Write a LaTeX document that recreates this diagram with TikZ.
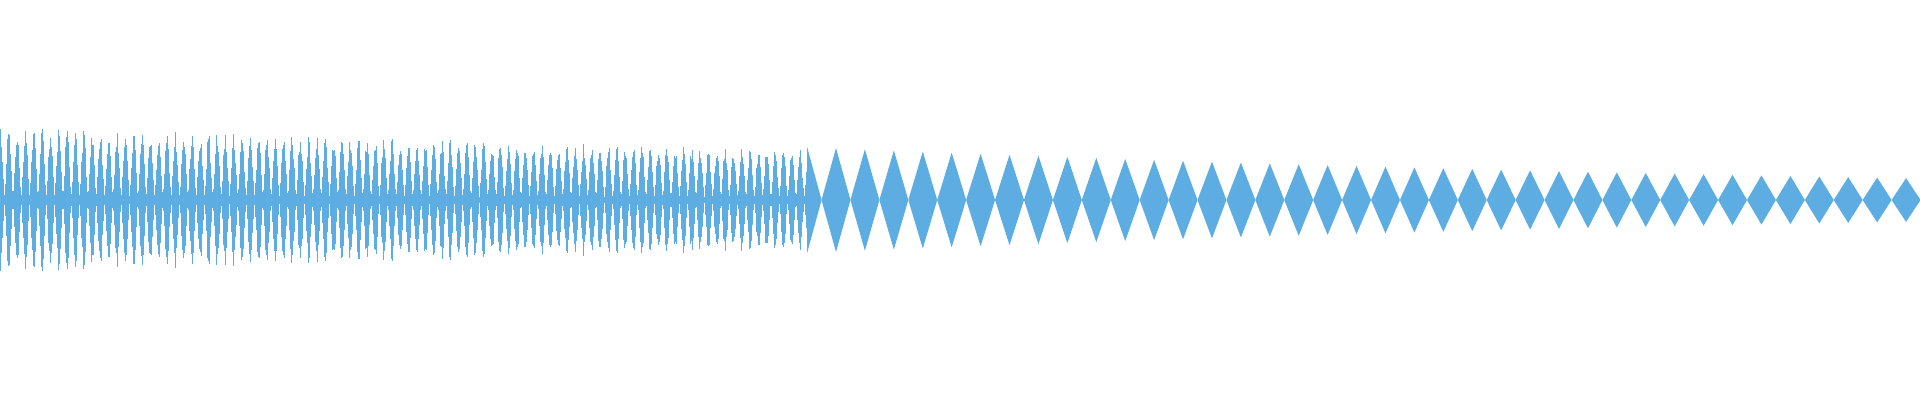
\documentclass[tikz,border=0pt]{standalone}
\definecolor{wave}{HTML}{5DADE2}
\begin{document}
\begin{tikzpicture}[x=1pt,y=1pt]
\useasboundingbox (0,0) rectangle (1920,400);
\pgfmathsetseed{7}
\foreach \i in {0,...,807}{
  \pgfmathsetmacro{\ph}{mod(\i,8.33)*21.61}
  \pgfmathsetmacro{\A}{(70-0.026*\i)*(0.07+0.93*abs(cos(\ph))^1.5)*(0.8+0.25*rnd)}
  \fill[wave] (\i,200-\A) rectangle (\i+1,200+\A);
}
\begin{scope}
\clip (807,0) rectangle (1920,400);
\foreach \k in {-1,...,37}{
  \pgfmathsetmacro{\cx}{836+28.92*\k}
  \pgfmathsetmacro{\a}{52*exp(-0.0234*\k)}
  \fill[wave] (\cx-14.46,200) -- (\cx,200+\a) -- (\cx+14.46,200) -- (\cx,200-\a) -- cycle;
}
\end{scope}
\end{tikzpicture}
\end{document}
